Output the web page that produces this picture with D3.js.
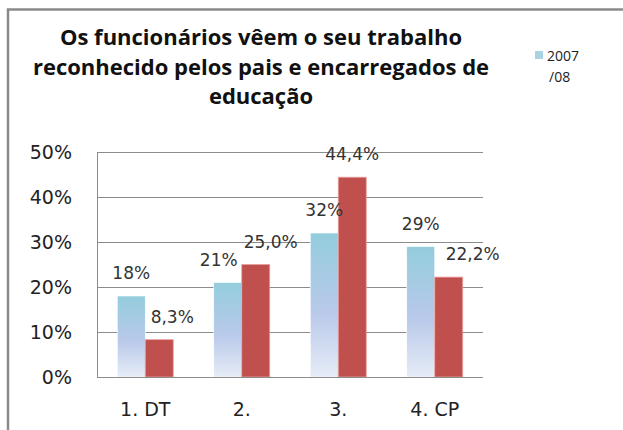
<!DOCTYPE html>
<html>
<head>
<meta charset="utf-8">
<script src="https://cdn.jsdelivr.net/npm/d3@7"></script>
<style>
  body { margin: 0; background: #fff; }
  svg { display: block; }
</style>
</head>
<body>
<svg id="chart" width="623" height="430"></svg>
<script>
// chart data
const categories = ["1. DT", "2.", "3.", "4. CP"];
const series2007 = [18, 21, 32, 29];
const seriesOther = [8.3, 25.0, 44.4, 22.2];
const labels2007 = ["18%", "21%", "32%", "29%"];
const labelsOther = ["8,3%", "25,0%", "44,4%", "22,2%"];
const yTicks = [0, 10, 20, 30, 40, 50];
const titleLines = [
  "Os funcionários vêem o seu trabalho",
  "reconhecido pelos pais e encarregados de",
  "educação"
];
const legendLines = ["2007", "/08"];

const svg = d3.select("#chart");

// outer frame (only top and left visible)
svg.append("path")
  .attr("d", "M8,430 V9.5 H623")
  .attr("fill", "none")
  .attr("stroke", "#8a8a8a")
  .attr("stroke-width", 2.5);

const plot = { left: 97, right: 483, top: 152, bottom: 377 };

const x = d3.scaleBand()
  .domain(categories)
  .range([plot.left, plot.right])
  .paddingInner(0.42)
  .paddingOuter(0.21);

const y = d3.scaleLinear()
  .domain([0, 50])
  .range([plot.bottom, plot.top]);

const defs = svg.append("defs");
const grad = defs.append("linearGradient")
  .attr("id", "blueGrad")
  .attr("x1", 0).attr("y1", 0).attr("x2", 0).attr("y2", 1);
grad.append("stop").attr("offset", "0%").attr("stop-color", "#93cddd");
grad.append("stop").attr("offset", "55%").attr("stop-color", "#b9c9ea");
grad.append("stop").attr("offset", "100%").attr("stop-color", "#e6ecf7");

// gridlines
svg.append("g")
  .selectAll("line")
  .data(yTicks.slice(1))
  .join("line")
  .attr("x1", plot.left)
  .attr("x2", plot.right)
  .attr("y1", d => y(d) + 0.5)
  .attr("y2", d => y(d) + 0.5)
  .attr("stroke", "#8c8c8c")
  .attr("stroke-width", 1);

// y axis labels
const yAxis = d3.axisLeft(y)
  .tickValues(yTicks)
  .tickFormat(d => d + "%")
  .tickSize(0)
  .tickPadding(25);
const yG = svg.append("g")
  .attr("transform", `translate(${plot.left},0)`)
  .call(yAxis);
yG.select(".domain").remove();
yG.selectAll("text")
  .attr("font-family", "DejaVu Sans, Verdana, sans-serif")
  .attr("font-size", 19)
  .attr("fill", "#222");

// bars
const sub = d3.scaleBand()
  .domain(["a", "b"])
  .range([0, x.bandwidth()]);

const groups = svg.append("g")
  .selectAll("g")
  .data(categories)
  .join("g")
  .attr("transform", d => `translate(${x(d)},0)`);

groups.append("rect")
  .attr("x", sub("a"))
  .attr("width", sub.bandwidth())
  .attr("y", (d, i) => y(series2007[i]))
  .attr("height", (d, i) => y(0) - y(series2007[i]))
  .attr("fill", "url(#blueGrad)")
  .attr("stroke", "#ffffff")
  .attr("stroke-width", 0.6);

groups.append("rect")
  .attr("x", sub("b"))
  .attr("width", sub.bandwidth())
  .attr("y", (d, i) => y(seriesOther[i]))
  .attr("height", (d, i) => y(0) - y(seriesOther[i]))
  .attr("fill", "#c0504d")
  .attr("stroke", "#e8a09e")
  .attr("stroke-width", 0.8);

// axis lines
svg.append("line")
  .attr("x1", plot.left + 0.5).attr("x2", plot.left + 0.5)
  .attr("y1", plot.top).attr("y2", plot.bottom)
  .attr("stroke", "#8c8c8c");
svg.append("line")
  .attr("x1", plot.left).attr("x2", plot.right)
  .attr("y1", plot.bottom + 0.5).attr("y2", plot.bottom + 0.5)
  .attr("stroke", "#8c8c8c");

// data labels, a few were dragged sideways in the original
const nudge2007 = [0, -9, 0, 0];
const nudgeOther = [13, 15, 0, 24];
const labelFont = "DejaVu Sans, Verdana, sans-serif";

groups.append("text")
  .attr("x", (d, i) => sub("a") + sub.bandwidth() / 2 + nudge2007[i])
  .attr("y", (d, i) => y(series2007[i]) - 17)
  .attr("text-anchor", "middle")
  .attr("font-family", labelFont)
  .attr("font-size", 17)
  .attr("fill", "#333")
  .text((d, i) => labels2007[i]);

groups.append("text")
  .attr("x", (d, i) => sub("b") + sub.bandwidth() / 2 + nudgeOther[i])
  .attr("y", (d, i) => y(seriesOther[i]) - 17)
  .attr("text-anchor", "middle")
  .attr("font-family", labelFont)
  .attr("font-size", 17)
  .attr("fill", "#333")
  .text((d, i) => labelsOther[i]);

// x axis labels
const xAxis = d3.axisBottom(x).tickSize(0).tickPadding(26);
const xG = svg.append("g")
  .attr("transform", `translate(0,${plot.bottom})`)
  .call(xAxis);
xG.select(".domain").remove();
xG.selectAll("text")
  .attr("font-family", "DejaVu Sans, Verdana, sans-serif")
  .attr("font-size", 19)
  .attr("fill", "#222");

// title
svg.append("text")
  .attr("text-anchor", "middle")
  .attr("font-family", "Open Sans, Liberation Sans, sans-serif")
  .attr("font-weight", "bold")
  .attr("font-size", 22)
  .attr("fill", "#111")
  .selectAll("tspan")
  .data(titleLines)
  .join("tspan")
  .attr("x", 261)
  .attr("y", (d, i) => 45 + i * 29.5)
  .text(d => d);

// legend (second entry is clipped in the original)
svg.append("rect")
  .attr("x", 535).attr("y", 51)
  .attr("width", 8).attr("height", 8)
  .attr("fill", "#a9d3e3");
svg.append("text")
  .attr("font-family", "Open Sans, Liberation Sans, sans-serif")
  .attr("font-size", 14)
  .attr("fill", "#222")
  .selectAll("tspan")
  .data(legendLines)
  .join("tspan")
  .attr("x", (d, i) => i === 0 ? 547 : 549)
  .attr("y", (d, i) => 61 + i * 21)
  .text(d => d);
</script>
</body>
</html>
